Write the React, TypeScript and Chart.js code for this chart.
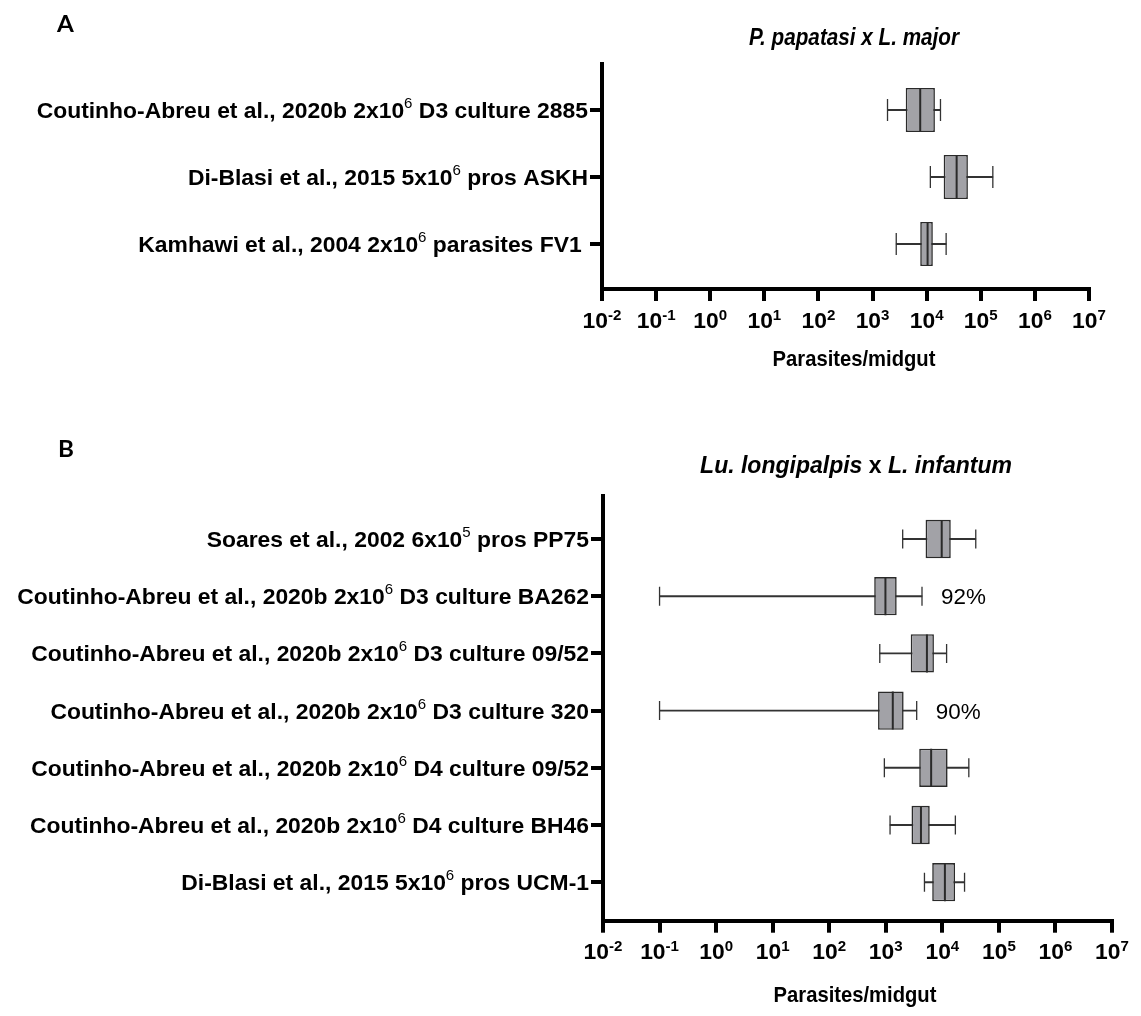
import React, { useEffect, useRef } from 'react';
import { Chart, registerables } from 'chart.js';

Chart.register(...registerables);

// ---------------- Panel A : P. papatasi x L. major ----------------
const categoriesA = [
  'Coutinho-Abreu et al., 2020b 2x10^6 D3 culture 2885',
  'Di-Blasi et al., 2015 5x10^6 pros ASKH',
  'Kamhawi et al., 2004 2x10^6 parasites FV1 ',
];
const whiskerLowA = [1890, 11700, 2740];
const q1A = [4100, 20600, 7600];
const medianA = [7600, 35800, 10400];
const q3A = [14200, 57800, 13000];
const whiskerHighA = [18000, 167000, 22900];
const notesA = ['', '', ''];

// ---------------- Panel B : Lu. longipalpis x L. infantum ----------------
const categoriesB = [
  'Soares et al., 2002 6x10^5 pros PP75',
  'Coutinho-Abreu et al., 2020b 2x10^6 D3 culture BA262',
  'Coutinho-Abreu et al., 2020b 2x10^6 D3 culture 09/52',
  'Coutinho-Abreu et al., 2020b 2x10^6 D3 culture 320',
  'Coutinho-Abreu et al., 2020b 2x10^6 D4 culture 09/52',
  'Coutinho-Abreu et al., 2020b 2x10^6 D4 culture BH46',
  'Di-Blasi et al., 2015 5x10^6 pros UCM-1',
];
const whiskerLowB = [1990, 0.1, 783, 0.1, 944, 1190, 4830];
const q1B = [5050, 624, 2760, 730, 3900, 2850, 6620];
const medianB = [9750, 986, 5340, 1330, 6340, 4190, 11100];
const q3B = [14100, 1560, 7100, 2070, 12400, 5990, 16800];
const whiskerHighB = [39000, 4370, 11900, 3520, 29400, 17000, 24700];
const notesB = ['', '92%', '', '90%', '', '', ''];

// ---------------- shared axis / titles ----------------
const xExponents = [-2, -1, 0, 1, 2, 3, 4, 5, 6, 7];
const xTitle = 'Parasites/midgut';
const panelLetters = ['A', 'B'];
const titleA = [{ text: 'P. papatasi x L. major', italic: true }];
const titleB = [
  { text: 'Lu. longipalpis', italic: true },
  { text: ' x ', italic: false },
  { text: 'L. infantum', italic: true },
];

// ---------------- layout & style (not data) ----------------
const W = 1141;
const H = 1016;
const FONT = '"Liberation Sans", Arial, Helvetica, sans-serif';
const BOX_FILL = '#a2a2a7';
const LINE = '#333333';

const LAYOUT_A = { canvasTop: 0, height: 390, left: 602, right: 1089, top: 64, bottom: 289, firstCat: 110, step: 67, boxFrac: 0.66, capR: 11, medR: 22, titleX: 854, titleDy: 77 };
const LAYOUT_B = { canvasTop: 390, height: 626, left: 603, right: 1112, top: 496, bottom: 920.7, firstCat: 539, step: 57.2, boxFrac: 0.67, capR: 9.5, medR: 19, titleX: 855, titleDy: 81 };

type Part = { text: string; sup?: boolean };

function parseSup(s: string): Part[] {
  const parts: Part[] = [];
  const re = /\^(-?\d+)/g;
  let last = 0;
  let m: any;
  while ((m = re.exec(s))) {
    if (m.index > last) parts.push({ text: s.slice(last, m.index) });
    parts.push({ text: m[1], sup: true });
    last = m.index + m[0].length;
  }
  if (last < s.length) parts.push({ text: s.slice(last) });
  return parts;
}

function drawRich(ctx: any, parts: Part[], x: number, y: number, align: string, st: any) {
  ctx.save();
  const sx = st.sx;
  const fontOf = (p: Part) => (p.sup ? `${st.supWeight} ${st.supSize}px ${FONT}` : `${st.weight} ${st.size}px ${FONT}`);
  const widths = parts.map((p) => {
    ctx.font = fontOf(p);
    return ctx.measureText(p.text).width;
  });
  const total = widths.reduce((a, b) => a + b, 0) * sx;
  const x0 = align === 'right' ? x - total : align === 'center' ? x - total / 2 : x;
  ctx.translate(x0, y);
  ctx.scale(sx, 1);
  ctx.fillStyle = '#000';
  ctx.textAlign = 'left';
  ctx.textBaseline = 'alphabetic';
  let cx = 0;
  parts.forEach((p, i) => {
    ctx.font = fontOf(p);
    ctx.fillText(p.text, cx, p.sup ? -st.rise : 0);
    cx += widths[i];
  });
  ctx.restore();
}

const LABEL_STYLE = { size: 22, weight: 'bold', supSize: 14.5, supWeight: 'normal', rise: 10, sx: 1.04 };
const XTICK_STYLE = { size: 22, weight: 'bold', supSize: 14.5, supWeight: 'bold', rise: 8, sx: 1.04 };
const NOTE_STYLE = { size: 22, weight: 'normal', supSize: 13, supWeight: 'normal', rise: 8, sx: 1.02 };
const TITLE_STYLE = { size: 21.5, weight: 'bold', supSize: 13, supWeight: 'bold', rise: 8, sx: 0.94 };

function makeTextPlugin(d: any, L: any) {
  return {
    id: 'panelText',
    afterDraw(chart: any) {
      const { ctx, chartArea } = chart;
      const xs = chart.scales.x;
      const ys = chart.scales.y;
      d.cats.forEach((lab: string, i: number) => {
        const py = ys.getPixelForValue(i);
        drawRich(ctx, parseSup(lab), chartArea.left - 14, py + 7.9, 'right', LABEL_STYLE);
      });
      xExponents.forEach((e) => {
        const px = xs.getPixelForValue(Math.pow(10, e));
        drawRich(ctx, [{ text: '10' }, { text: e < 0 ? '-' + -e : String(e), sup: true }], px, chartArea.bottom + 38.5, 'center', XTICK_STYLE);
      });
      d.notes.forEach((t: string, i: number) => {
        if (!t) return;
        const px = xs.getPixelForValue(d.high[i]) + 19;
        drawRich(ctx, [{ text: t }], px, ys.getPixelForValue(i) + 8, 'left', NOTE_STYLE);
      });
      drawRich(ctx, [{ text: xTitle }], L.titleX, chartArea.bottom + L.titleDy, 'center', TITLE_STYLE);
    },
  };
}

function makeChart(canvas: HTMLCanvasElement, d: any, L: any) {
  const idx = d.cats.map((_: any, i: number) => i);
  const top = L.top - L.canvasTop;
  const bottom = L.bottom - L.canvasTop;
  const first = L.firstCat - L.canvasTop;
  const yMin = -(first - top) / L.step;
  const yMax = yMin + (bottom - top) / L.step;
  const axisGrid = {
    display: true,
    drawOnChartArea: false,
    drawTicks: true,
    tickLength: 12,
    tickWidth: 4,
    tickColor: '#000',
    lineWidth: 4,
    color: '#000',
    offset: false,
  };
  const axisBorder = { display: true, width: 4, color: '#000' };
  return new Chart(canvas, {
    type: 'bar',
    data: {
      datasets: [
        {
          type: 'bar',
          label: 'whiskers',
          data: idx.map((i: number) => ({ x: [d.low[i], d.high[i]], y: i })),
          backgroundColor: LINE,
          borderWidth: 0,
          barThickness: 1.2,
          grouped: false,
          order: 3,
        },
        {
          type: 'bar',
          label: 'boxes',
          data: idx.map((i: number) => ({ x: [d.q1[i], d.q3[i]], y: i })),
          backgroundColor: BOX_FILL,
          borderColor: '#2a2a2a',
          borderWidth: 1.6,
          borderSkipped: false,
          barPercentage: L.boxFrac,
          categoryPercentage: 1,
          grouped: false,
          order: 2,
        },
        {
          type: 'scatter',
          label: 'caps',
          data: idx.flatMap((i: number) => [
            { x: d.low[i], y: i },
            { x: d.high[i], y: i },
          ]),
          pointStyle: 'line',
          pointRotation: 90,
          pointRadius: L.capR,
          pointHoverRadius: L.capR,
          pointBorderColor: LINE,
          pointBorderWidth: 1.3,
          borderColor: LINE,
          showLine: false,
          order: 1,
        },
        {
          type: 'scatter',
          label: 'medians',
          data: idx.map((i: number) => ({ x: d.med[i], y: i })),
          pointStyle: 'line',
          pointRotation: 90,
          pointRadius: L.medR,
          pointHoverRadius: L.medR,
          pointBorderColor: '#2a2a2a',
          pointBorderWidth: 2,
          borderColor: '#2a2a2a',
          showLine: false,
          order: 0,
        },
      ],
    } as any,
    options: {
      indexAxis: 'y',
      responsive: false,
      maintainAspectRatio: false,
      animation: false,
      devicePixelRatio: 1,
      events: [],
      layout: { padding: { left: 0, top, right: W - L.right, bottom: 0 } },
      plugins: {
        legend: { display: false },
        tooltip: { enabled: false },
        title: { display: false },
      },
      scales: {
        x: {
          type: 'logarithmic',
          position: 'bottom',
          min: Math.pow(10, xExponents[0]),
          max: Math.pow(10, xExponents[xExponents.length - 1]),
          offset: false,
          afterBuildTicks: (s: any) => {
            s.ticks = xExponents.map((e) => ({ value: Math.pow(10, e) }));
          },
          afterFit: (s: any) => {
            s.height = L.height - bottom;
          },
          ticks: { display: false },
          grid: axisGrid,
          border: axisBorder,
        },
        y: {
          type: 'linear',
          position: 'left',
          reverse: true,
          min: yMin,
          max: yMax,
          offset: false,
          afterBuildTicks: (s: any) => {
            s.ticks = idx.map((i: number) => ({ value: i }));
          },
          afterFit: (s: any) => {
            s.width = L.left;
          },
          ticks: { display: false },
          grid: axisGrid,
          border: axisBorder,
        },
      },
    } as any,
    plugins: [makeTextPlugin(d, L)],
  });
}

export default function App() {
  const refA = useRef<HTMLCanvasElement>(null);
  const refB = useRef<HTMLCanvasElement>(null);

  useEffect(() => {
    const dA = { cats: categoriesA, low: whiskerLowA, q1: q1A, med: medianA, q3: q3A, high: whiskerHighA, notes: notesA };
    const dB = { cats: categoriesB, low: whiskerLowB, q1: q1B, med: medianB, q3: q3B, high: whiskerHighB, notes: notesB };
    const cA = makeChart(refA.current as HTMLCanvasElement, dA, LAYOUT_A);
    const cB = makeChart(refB.current as HTMLCanvasElement, dB, LAYOUT_B);
    return () => {
      cA.destroy();
      cB.destroy();
    };
  }, []);

  const letterFont = { fontFamily: 'Lato, "Open Sans", sans-serif', fontWeight: 700, fontSize: 22 } as any;

  return (
    <div style={{ position: 'absolute', left: 0, top: 0, width: W, height: H, background: '#fff' }}>
      <canvas
        ref={refA}
        width={W}
        height={LAYOUT_A.height}
        style={{ position: 'absolute', left: 0, top: LAYOUT_A.canvasTop, width: W, height: LAYOUT_A.height }}
      />
      <canvas
        ref={refB}
        width={W}
        height={LAYOUT_B.height}
        style={{ position: 'absolute', left: 0, top: LAYOUT_B.canvasTop, width: W, height: LAYOUT_B.height }}
      />
      <svg width={W} height={H} style={{ position: 'absolute', left: 0, top: 0, pointerEvents: 'none' }}>
        <text transform="translate(57,32) scale(1.1,1)" style={letterFont}>
          {panelLetters[0]}
        </text>
        <text transform="translate(58,457) scale(1.1,1)" style={letterFont}>
          {panelLetters[1]}
        </text>
        <text
          transform="translate(854,45) scale(0.9,1)"
          textAnchor="middle"
          style={{ fontFamily: FONT, fontWeight: 700, fontSize: 23, whiteSpace: 'pre' }}
        >
          {titleA.map((p, i) => (
            <tspan key={i} fontStyle={p.italic ? 'italic' : 'normal'}>
              {p.text}
            </tspan>
          ))}
        </text>
        <text
          x={856}
          y={473}
          textAnchor="middle"
          style={{ fontFamily: FONT, fontWeight: 700, fontSize: 23, whiteSpace: 'pre' }}
        >
          {titleB.map((p, i) => (
            <tspan key={i} fontStyle={p.italic ? 'italic' : 'normal'}>
              {p.text}
            </tspan>
          ))}
        </text>
      </svg>
    </div>
  );
}
